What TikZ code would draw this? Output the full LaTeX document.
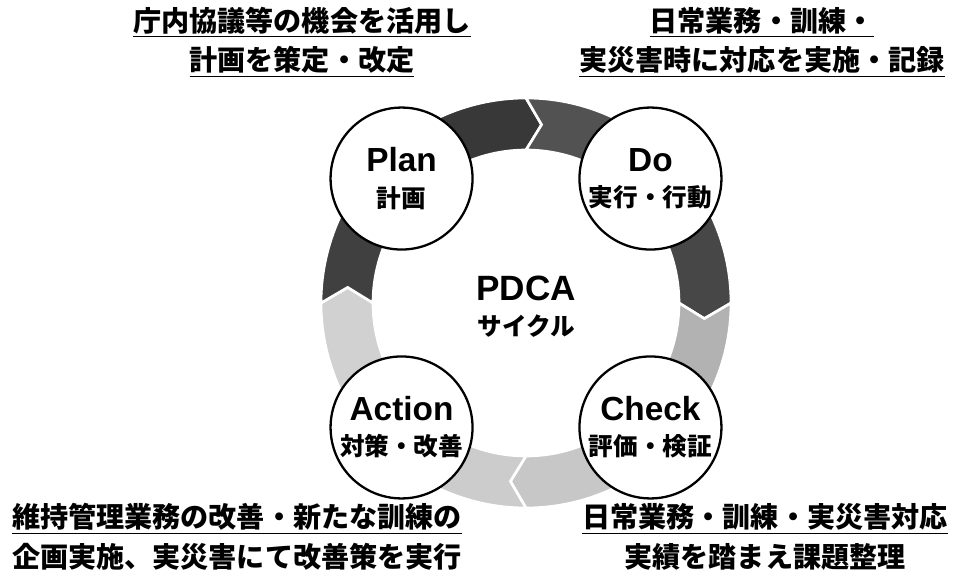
\documentclass[tikz,border=0pt]{standalone}
\usepackage{fontspec}
\newfontfamily\jpfont{Noto Sans CJK JP}
\newfontfamily\latfont{Liberation Sans}

\tikzset{
  phase/.style={circle, draw=black, line width=1.3pt, fill=white, minimum size=2.84cm, inner sep=0pt, align=center, font=\fontsize{13}{20}\selectfont},
  note/.style={font=\jpfont\bfseries\fontsize{16}{22.5}\selectfont, align=center},
  piece/.style={draw=white, line width=1.5pt},
}
\newcommand{\phasetext}[2]{{\latfont\bfseries\fontsize{19}{20}\selectfont #1}\\{\jpfont\bfseries\fontsize{14}{20}\selectfont #2}}

% ring sizes (px)
\def\Rout{205}
\def\Rin{153}
\def\Rmid{179}
\def\tipang{5}
\newcommand{\arrowpiece}[3]{%
  \filldraw[piece, fill=#3] (#1:\Rout) arc[start angle=#1, end angle=#2, radius=\Rout]
    -- ({#2-\tipang}:\Rmid) -- (#2:\Rin) arc[start angle=#2, end angle=#1, radius=\Rin]
    -- ({#1-\tipang}:\Rmid) -- cycle;}

\begin{document}
\begin{tikzpicture}[x=0.02cm, y=0.02cm]
  \useasboundingbox (0,0) rectangle (961,579);
  \coordinate (C) at (526,276);

  \begin{scope}[shift={(C)}]
    % cycle arrows, clockwise
    \arrowpiece{135}{90}{black!78}
    \arrowpiece{90}{45}{black!68}
    \arrowpiece{45}{0}{black!72}
    \arrowpiece{0}{-45}{black!30}
    \arrowpiece{-45}{-90}{black!22}
    \arrowpiece{-90}{-135}{black!20}
    \arrowpiece{-135}{-180}{black!18}
    \arrowpiece{180}{135}{black!75}

    % the four phases
    \node[phase] (plan) at (135:176) {\phasetext{Plan}{計画}};
    \node[phase] (do) at (45:176) {\phasetext{Do}{実行・行動}};
    \node[phase] (check) at (-45:176) {\phasetext{Check}{評価・検証}};
    \node[phase] (action) at (-135:176) {\phasetext{Action}{対策・改善}};

    \node[align=center, font=\fontsize{14}{20}\selectfont] (pdca) at (0,-4) {{\latfont\bfseries\fontsize{20}{20}\selectfont PDCA}\\{\jpfont\bfseries\fontsize{14}{20}\selectfont サイクル}};
  \end{scope}

  % notes
  \node[note] (planNote) at (302,537) {\underline{庁内協議等の機会を活用し}\\\underline{計画を策定・改定}};
  \node[note] (doNote) at (762,537) {\underline{日常業務・訓練・}\\\underline{実災害時に対応を実施・記録}};
  \node[note] (actionNote) at (237,42) {\underline{維持管理業務の改善・新たな訓練の}\\企画実施、実災害にて改善策を実行};
  \node[note] (checkNote) at (765,42) {\underline{日常業務・訓練・実災害対応}\\実績を踏まえ課題整理};
\end{tikzpicture}
\end{document}
